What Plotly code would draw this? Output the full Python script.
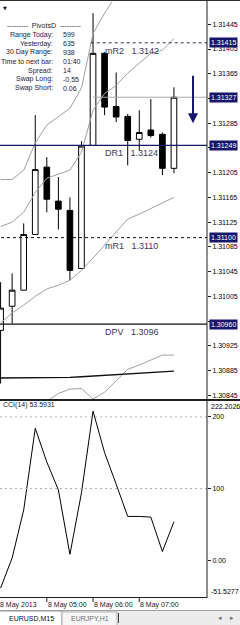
import plotly.graph_objects as go

# ---------------- data ----------------
bar_index = list(range(16))
opens  = [1.30950, 1.30989, 1.31015, 1.31105, 1.31214, 1.31159, 1.31144, 1.31050,
          1.31249, 1.31398, 1.31312, 1.31296, 1.31259, 1.31274, 1.31267, 1.31212]
highs  = [1.31028, 1.31042, 1.31123, 1.31298, 1.31230, 1.31198, 1.31165, 1.31256,
          1.31463, 1.31400, 1.31367, 1.31300, 1.31306, 1.31324, 1.31270, 1.31343]
lows   = [1.30864, 1.30961, 1.31015, 1.31105, 1.31141, 1.31113, 1.31031, 1.31050,
          1.31249, 1.31298, 1.31287, 1.31217, 1.31241, 1.31262, 1.31201, 1.31204]
closes = [1.30986, 1.31015, 1.31105, 1.31210, 1.31162, 1.31146, 1.31047, 1.31248,
          1.31398, 1.31311, 1.31295, 1.31257, 1.31270, 1.31265, 1.31212, 1.31327]

band_upper = [1.31194, 1.31194, 1.31209, 1.31253, 1.31282, 1.31295, 1.31309, 1.31342,
              1.31430, 1.31463, 1.31492, 1.31515, None, None, None, None]
band_middle = [1.31118, 1.31125, 1.31141, 1.31173, 1.31196, 1.31202, 1.31209, 1.31238,
               1.31306, 1.31333, 1.31346, 1.31366, 1.31382, 1.31398, 1.31403, 1.31422]
band_lower = [1.30962, 1.30978, 1.30991, 1.31005, 1.31017, 1.31023, 1.31031, 1.31047,
              1.31067, 1.31088, 1.31109, 1.31130, 1.31138, 1.31147, 1.31156, 1.31165]
ma_slow = [1.30873, 1.30873, 1.30873, 1.30873, 1.30874, 1.30874, 1.30874, 1.30875,
           1.30876, 1.30877, 1.30878, 1.30879, 1.30880, 1.30881, 1.30883, 1.30884]
ma_fast = [None, None, None, 1.30815, 1.30835, 1.30848, 1.30855, 1.30856,
           1.30839, 1.30850, 1.30869, 1.30887, 1.30894, 1.30902, 1.30910, 1.30910]

cci_values = [-39, 3, 70, 184, 137, 98, 8, 94, 208, 150, 106, 61, 61, 60, 12, 53.5931]
cci_levels = [200, 100]
cci_min, cci_max = -51.5277, 222.2026

pivot_names = ["mR2", "DR1", "mR1", "DPV"]
pivot_values = [1.31415, 1.31249, 1.31100, 1.30960]
pivot_texts = ["1.3142", "1.3124", "1.3110", "1.3096"]

price_ticks = [1.30845, 1.30885, 1.30925, 1.30965, 1.31005, 1.31045, 1.31085, 1.31125,
               1.31165, 1.31205, 1.31245, 1.31285, 1.31325, 1.31365, 1.31405, 1.31445]
hidden_price_ticks = [1.30965, 1.31245, 1.31325]   # covered by highlighted labels

time_tick_bars = [0, 4, 8, 12]
time_tick_labels = ["8 May 2013", "8 May 05:00", "8 May 06:00", "8 May 07:00"]

info_labels = ["Range Today:", "Yesterday:", "30 Day Range:", "Time to next bar:",
               "Spread:", "Swap Long:", "Swap Short:"]
info_values = ["599", "635", "938", "01:40", "14", "-0.55", "0.06"]

signal_arrow_bar = 16.65
signal_arrow_from = 1.31364
signal_arrow_to = 1.31285

tabs = ["EURUSD,M15", "EURJPY,H1"]

# ---------------- geometry helpers ----------------
W, H = 240, 625
PLOT_R = 207 / W
def py(pix):  # pixel row -> paper y
    return 1 - pix / H

FONT = "Liberation Sans"
NAVY = "#16166a"

fig = go.Figure()

for series, col, wdt in [(band_upper, "#a0a0a0", 1), (band_middle, "#a0a0a0", 1),
                         (band_lower, "#a0a0a0", 1), (ma_fast, "#a0a0a0", 1),
                         (ma_slow, "#101010", 1.3)]:
    fig.add_trace(go.Scatter(x=bar_index, y=series, mode="lines",
                             line=dict(color=col, width=wdt), hoverinfo="skip",
                             xaxis="x", yaxis="y", connectgaps=False))

fig.add_trace(go.Candlestick(
    x=bar_index, open=opens, high=highs, low=lows, close=closes,
    increasing=dict(fillcolor="white", line=dict(color="black", width=1)),
    decreasing=dict(fillcolor="black", line=dict(color="black", width=1)),
    whiskerwidth=0, xaxis="x", yaxis="y", hoverinfo="skip"))

fig.add_trace(go.Scatter(x=bar_index, y=cci_values, mode="lines",
                         line=dict(color="black", width=1), xaxis="x2", yaxis="y2",
                         hoverinfo="skip"))

shapes = []
annotations = []

pivot_style = {
    "mR2": dict(color="#30305a", dash="3px,3px", width=1, start=7.8),
    "DR1": dict(color=NAVY, dash="solid", width=1.3, start=-1),
    "mR1": dict(color="#101010", dash="3px,3px", width=1, start=-1),
    "DPV": dict(color="#101010", dash="solid", width=1.3, start=-1),
}
for name, val, txt in zip(pivot_names, pivot_values, pivot_texts):
    st = pivot_style[name]
    shapes.append(dict(type="line", xref="x", yref="y", x0=st["start"], x1=20,
                       y0=val, y1=val, line=dict(color=st["color"], width=st["width"], dash=st["dash"])))
    annotations.append(dict(xref="x", yref="y", x=8.85, y=val, text=f"{name}   {txt}",
                            showarrow=False, xanchor="left", yanchor="top", yshift=-1,
                            font=dict(family=FONT, size=9, color="#3a3a5c")))
    annotations.append(dict(xref="paper", yref="y", x=209 / W, y=val, text=f"{val:.5f}",
                            showarrow=False, xanchor="left", yanchor="middle",
                            bgcolor=NAVY, borderpad=1, font=dict(family=FONT, size=7, color="white")))

bid = closes[-1]
shapes.append(dict(type="line", xref="x", yref="y", x0=8, x1=20, y0=bid, y1=bid,
                   line=dict(color="#a8a8a8", width=1)))
annotations.append(dict(xref="paper", yref="y", x=209 / W, y=bid, text=f"{bid:.5f}",
                        showarrow=False, xanchor="left", yanchor="middle",
                        bgcolor=NAVY, borderpad=1, font=dict(family=FONT, size=7, color="white")))

annotations.append(dict(xref="x", yref="y", axref="x", ayref="y",
                        x=signal_arrow_bar, y=signal_arrow_to,
                        ax=signal_arrow_bar, ay=signal_arrow_from,
                        showarrow=True, arrowhead=2, arrowsize=1, arrowwidth=2,
                        arrowcolor=NAVY, text=""))

for lv in cci_levels:
    shapes.append(dict(type="line", xref="paper", yref="y2", x0=0, x1=PLOT_R, y0=lv, y1=lv,
                       line=dict(color="#b4b4b4", width=1, dash="2px,3px")))
for val, anc in [(cci_max, "top"), (cci_min, "bottom")]:
    annotations.append(dict(xref="paper", yref="y2", x=209 / W, y=val, text=f"{val:.4f}",
                            showarrow=False, xanchor="left", yanchor=anc,
                            font=dict(family=FONT, size=7, color="black")))
annotations.append(dict(xref="paper", yref="paper", x=1 / W, y=py(399), text=f"CCI(14) {cci_values[-1]:.4f}",
                        showarrow=False, xanchor="left", yanchor="top",
                        font=dict(family=FONT, size=7, color="#202020")))

shapes += [
    dict(type="line", xref="paper", yref="paper", x0=0, x1=1, y0=py(0.5), y1=py(0.5),
         line=dict(color="#303030", width=1)),
    dict(type="line", xref="paper", yref="paper", x0=PLOT_R, x1=PLOT_R, y0=py(0), y1=py(598),
         line=dict(color="#202020", width=1)),
    dict(type="line", xref="paper", yref="paper", x0=0, x1=1, y0=py(400), y1=py(400),
         line=dict(color="#202020", width=2)),
    dict(type="line", xref="paper", yref="paper", x0=0, x1=PLOT_R, y0=py(597.5), y1=py(597.5),
         line=dict(color="#202020", width=1)),
]

for b, lab in zip(time_tick_bars, time_tick_labels):
    if b > 0:
        shapes.append(dict(type="line", xref="x2", yref="paper", x0=b, x1=b,
                           y0=py(598), y1=py(602), line=dict(color="#202020", width=1)))
    annotations.append(dict(xref="x2", yref="paper", x=b, y=py(605), text=lab,
                            showarrow=False, xanchor="left", yanchor="middle",
                            xshift=-3 if b == 0 else -1,
                            font=dict(family=FONT, size=7, color="#202020")))

annotations.append(dict(xref="paper", yref="paper", x=44 / W, y=py(26),
                        text="---------  PivotsD  ---------", showarrow=False,
                        xanchor="center", yanchor="middle",
                        font=dict(family=FONT, size=7, color="#1a1a40")))
for i, (lab, val) in enumerate(zip(info_labels, info_values)):
    yy = py(34.5 + i * 9)
    annotations.append(dict(xref="paper", yref="paper", x=55 / W, y=yy, text=lab,
                            showarrow=False, xanchor="right", yanchor="middle",
                            font=dict(family=FONT, size=7, color="#1a1a40")))
    annotations.append(dict(xref="paper", yref="paper", x=61 / W, y=yy, text=val,
                            showarrow=False, xanchor="left", yanchor="middle",
                            font=dict(family=FONT, size=7, color="#1a1a40")))
annotations.append(dict(xref="paper", yref="paper", x=1 / W, y=py(8), text="▼",
                        showarrow=False, xanchor="left", yanchor="middle",
                        font=dict(family="DejaVu Sans", size=5, color="#101030")))

shapes += [
    dict(type="rect", xref="paper", yref="paper", x0=0, x1=1, y0=0, y1=py(610),
         fillcolor="#ececec", line=dict(width=0)),
    dict(type="line", xref="paper", yref="paper", x0=0, x1=1, y0=py(610.5), y1=py(610.5),
         line=dict(color="#a0a0a0", width=1)),
    dict(type="rect", xref="paper", yref="paper", x0=-0.01, x1=62 / W, y0=-0.01, y1=py(611),
         fillcolor="white", line=dict(color="#9a9a9a", width=1)),
    dict(type="rect", xref="paper", yref="paper", x0=62 / W, x1=117 / W, y0=-0.01, y1=py(612),
         fillcolor="#f6f6f6", line=dict(color="#b0b0b0", width=1)),
    dict(type="line", xref="paper", yref="paper", x0=118.5 / W, x1=118.5 / W, y0=py(623), y1=py(613),
         line=dict(color="#404040", width=1)),
]
annotations.append(dict(xref="paper", yref="paper", x=31 / W, y=py(618), text=tabs[0],
                        showarrow=False, xanchor="center", yanchor="middle",
                        font=dict(family=FONT, size=7, color="#101010")))
annotations.append(dict(xref="paper", yref="paper", x=90 / W, y=py(618), text=tabs[1],
                        showarrow=False, xanchor="center", yanchor="middle",
                        font=dict(family=FONT, size=7, color="#707070")))
for xx, ch in [(220, "◂"), (232, "▸")]:
    annotations.append(dict(xref="paper", yref="paper", x=xx / W, y=py(618), text=ch,
                            showarrow=False, xanchor="center", yanchor="middle",
                            font=dict(family="DejaVu Sans", size=7, color="#707070")))

price_ticktext = ["" if t in hidden_price_ticks else f"{t:.5f}" for t in price_ticks]

fig.update_layout(
    width=W, height=H, margin=dict(l=0, r=0, t=0, b=0),
    paper_bgcolor="white", plot_bgcolor="white", showlegend=False,
    boxgap=0.3,
    xaxis=dict(domain=[0, PLOT_R], range=[-0.05, 17.86], visible=False,
               rangeslider=dict(visible=False), anchor="y", fixedrange=True),
    xaxis2=dict(domain=[0, PLOT_R], range=[-0.05, 17.86], visible=False,
                anchor="y2", fixedrange=True),
    yaxis=dict(domain=[py(399), py(2)], range=[1.30839, 1.31481], side="right",
               tickvals=price_ticks, ticktext=price_ticktext, ticks="outside", ticklen=3,
               tickcolor="#202020", tickfont=dict(family=FONT, size=7, color="black"),
               showgrid=False, zeroline=False, showline=False, automargin=False,
               anchor="x", fixedrange=True),
    yaxis2=dict(domain=[py(597), py(401)], range=[cci_min, cci_max], side="right",
                tickvals=[0, 100, 200], ticktext=["0.00", "100", "200"], ticks="outside",
                ticklen=3, tickcolor="#202020", tickfont=dict(family=FONT, size=7, color="black"),
                showgrid=False, zeroline=False, showline=False, automargin=False,
                anchor="x2", fixedrange=True),
    shapes=shapes, annotations=annotations,
)

fig.write_html("out.html")
